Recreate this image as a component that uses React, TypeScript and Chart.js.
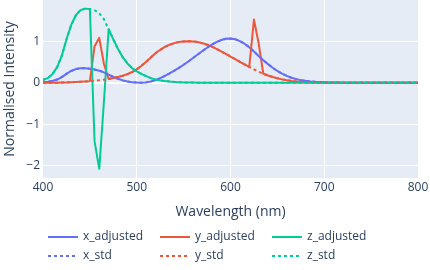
import React, { useEffect, useRef } from "react";
import { Chart, registerables } from "chart.js";

Chart.register(...registerables);

const wavelengths = [
  400, 405, 410, 415, 420, 425, 430, 435, 440, 445, 450, 455, 460, 465, 470, 475, 480, 485, 490, 495,
  500, 505, 510, 515, 520, 525, 530, 535, 540, 545, 550, 555, 560, 565, 570, 575, 580, 585, 590, 595,
  600, 605, 610, 615, 620, 625, 630, 635, 640, 645, 650, 655, 660, 665, 670, 675, 680, 685, 690, 695,
  700, 705, 710, 715, 720, 725, 730, 735, 740, 745, 750, 755, 760, 765, 770, 775, 780, 785, 790, 795,
  800,
];

const xStd = [
  0.01431, 0.02319, 0.04351, 0.07763, 0.13438, 0.21477, 0.2839, 0.3285, 0.34828, 0.34806, 0.3362, 0.3187, 0.2908, 0.2511, 0.19536, 0.1421, 0.09564, 0.05795, 0.03201, 0.0147,
  0.0049, 0.0024, 0.0093, 0.0291, 0.06327, 0.1096, 0.1655, 0.22575, 0.2904, 0.3597, 0.43345, 0.51205, 0.5945, 0.6784, 0.7621, 0.8425, 0.9163, 0.9786, 1.0263, 1.0567,
  1.0622, 1.0456, 1.0026, 0.9384, 0.85445, 0.7514, 0.6424, 0.5419, 0.4479, 0.3608, 0.2835, 0.2187, 0.1649, 0.1212, 0.0874, 0.0636, 0.04677, 0.0329, 0.0227, 0.01584,
  0.011359, 0.008111, 0.00579, 0.004109, 0.002899, 0.002049, 0.00144, 0.001, 0.00069, 0.000476, 0.000332, 0.000235, 0.000166, 0.000117, 0.000083, 0.000059, 0.000042, 0.00003, 0.00002, 0.000015,
  0.00001,
];

const xAdjusted = [
  0.01431, 0.02319, 0.04351, 0.07763, 0.13438, 0.21477, 0.2839, 0.3285, 0.34828, 0.34806, 0.3362, 0.3187, 0.2908, 0.2511, 0.19536, 0.1421, 0.09564, 0.05795, 0.03201, 0.0147,
  0.0049, 0.0024, 0.0093, 0.0291, 0.06327, 0.1096, 0.1655, 0.22575, 0.2904, 0.3597, 0.43345, 0.51205, 0.5945, 0.6784, 0.7621, 0.8425, 0.9163, 0.9786, 1.0263, 1.0567,
  1.0622, 1.0456, 1.0026, 0.9384, 0.85445, 0.7514, 0.6424, 0.5419, 0.4479, 0.3608, 0.2835, 0.2187, 0.1649, 0.1212, 0.0874, 0.0636, 0.04677, 0.0329, 0.0227, 0.01584,
  0.011359, 0.008111, 0.00579, 0.004109, 0.002899, 0.002049, 0.00144, 0.001, 0.00069, 0.000476, 0.000332, 0.000235, 0.000166, 0.000117, 0.000083, 0.000059, 0.000042, 0.00003, 0.00002, 0.000015,
  0.00001,
];

const yStd = [
  0.000396, 0.00064, 0.00121, 0.00218, 0.004, 0.0073, 0.0116, 0.01684, 0.023, 0.0298, 0.038, 0.048, 0.06, 0.0739, 0.09098, 0.1126, 0.13902, 0.1693, 0.20802, 0.2586,
  0.323, 0.4073, 0.503, 0.6082, 0.71, 0.7932, 0.862, 0.91485, 0.954, 0.9803, 0.99495, 1.0, 0.995, 0.9786, 0.952, 0.9154, 0.87, 0.8163, 0.757, 0.6949,
  0.631, 0.5668, 0.503, 0.4412, 0.381, 0.321, 0.265, 0.217, 0.175, 0.1382, 0.107, 0.0816, 0.061, 0.04458, 0.032, 0.0232, 0.017, 0.01192, 0.00821, 0.005723,
  0.004102, 0.002929, 0.002091, 0.001484, 0.001047, 0.00074, 0.00052, 0.000361, 0.000249, 0.000172, 0.00012, 0.000085, 0.00006, 0.000042, 0.00003, 0.000021, 0.000015, 0.00001, 0.000007, 0.000005,
  0.000004,
];

const yAdjusted = [
  0.000396, 0.00064, 0.00121, 0.00218, 0.004, 0.0073, 0.0116, 0.01684, 0.023, 0.0298, 0.038, 0.88, 1.08, 0.45, 0.09098, 0.1126, 0.13902, 0.1693, 0.20802, 0.2586,
  0.323, 0.4073, 0.503, 0.6082, 0.71, 0.7932, 0.862, 0.91485, 0.954, 0.9803, 0.99495, 1.0, 0.995, 0.9786, 0.952, 0.9154, 0.87, 0.8163, 0.757, 0.6949,
  0.631, 0.5668, 0.503, 0.4412, 0.381, 1.52, 0.95, 0.217, 0.175, 0.1382, 0.107, 0.0816, 0.061, 0.04458, 0.032, 0.0232, 0.017, 0.01192, 0.00821, 0.005723,
  0.004102, 0.002929, 0.002091, 0.001484, 0.001047, 0.00074, 0.00052, 0.000361, 0.000249, 0.000172, 0.00012, 0.000085, 0.00006, 0.000042, 0.00003, 0.000021, 0.000015, 0.00001, 0.000007, 0.000005,
  0.000004,
];

const zStd = [
  0.06785, 0.1102, 0.2074, 0.3713, 0.6456, 1.03905, 1.3856, 1.62296, 1.74706, 1.7826, 1.77211, 1.7441, 1.6692, 1.5281, 1.28764, 1.0419, 0.81295, 0.6162, 0.46518, 0.3533,
  0.272, 0.2123, 0.1582, 0.1117, 0.07825, 0.05725, 0.04216, 0.02984, 0.0203, 0.0134, 0.00875, 0.00575, 0.0039, 0.00275, 0.0021, 0.0018, 0.00165, 0.0014, 0.0011, 0.001,
  0.0008, 0.0006, 0.00034, 0.00024, 0.00019, 0.0001, 0.00005, 0.00003, 0.00002, 0.00001, 0, 0, 0, 0, 0, 0, 0, 0, 0, 0,
  0, 0, 0, 0, 0, 0, 0, 0, 0, 0, 0, 0, 0, 0, 0, 0, 0, 0, 0, 0,
  0,
];

const zAdjusted = [
  0.06785, 0.1102, 0.2074, 0.3713, 0.6456, 1.03905, 1.3856, 1.62296, 1.74706, 1.7826, 1.77211, -1.41, -2.07, -0.45, 1.28764, 1.0419, 0.81295, 0.6162, 0.46518, 0.3533,
  0.272, 0.2123, 0.1582, 0.1117, 0.07825, 0.05725, 0.04216, 0.02984, 0.0203, 0.0134, 0.00875, 0.00575, 0.0039, 0.00275, 0.0021, 0.0018, 0.00165, 0.0014, 0.0011, 0.001,
  0.0008, 0.0006, 0.00034, 0.00024, 0.00019, 0.0001, 0.00005, 0.00003, 0.00002, 0.00001, 0, 0, 0, 0, 0, 0, 0, 0, 0, 0,
  0, 0, 0, 0, 0, 0, 0, 0, 0, 0, 0, 0, 0, 0, 0, 0, 0, 0, 0, 0,
  0,
];

const seriesNames = ["x_adjusted", "y_adjusted", "z_adjusted", "x_std", "y_std", "z_std"];
const xTickValues = [400, 500, 600, 700, 800];
const yTickValues = [-2, -1, 0, 1];
const xTitle = "Wavelength (nm)";
const yTitle = "Normalised Intensity";

const BLUE = "#636efa";
const RED = "#EF553B";
const GREEN = "#00cc96";
const TEXT = "#2a3f5f";
const FONT = "'Open Sans', 'Noto Sans', sans-serif";

const toPoints = (vals: number[]) => wavelengths.map((w, i) => ({ x: w, y: vals[i] }));

const extrasPlugin = {
  id: "plotlyExtras",
  beforeDraw(chart: any) {
    const { ctx, chartArea } = chart;
    ctx.save();
    ctx.fillStyle = "#E5ECF6";
    ctx.fillRect(chartArea.left, chartArea.top, chartArea.right - chartArea.left, chartArea.bottom - chartArea.top);
    ctx.restore();
  },
  afterDraw(chart: any) {
    const { ctx, chartArea } = chart;
    ctx.save();
    ctx.fillStyle = TEXT;
    ctx.font = `14px ${FONT}`;
    ctx.textAlign = "center";
    ctx.textBaseline = "middle";
    ctx.fillText(xTitle, (chartArea.left + chartArea.right) / 2, 212);
    ctx.save();
    ctx.translate(10.5, (chartArea.top + chartArea.bottom) / 2);
    ctx.rotate(-Math.PI / 2);
    ctx.fillText(yTitle, 0, 0);
    ctx.restore();

    // legend
    const ds = chart.data.datasets;
    ctx.font = `12px ${FONT}`;
    ctx.textAlign = "left";
    ds.forEach((d: any, i: number) => {
      const col = i % 3;
      const row = Math.floor(i / 3);
      const x0 = 48 + col * 112;
      const y = row === 0 ? 237 : 256;
      ctx.save();
      ctx.strokeStyle = d.borderColor;
      ctx.lineWidth = 2;
      ctx.setLineDash(d.borderDash || []);
      ctx.beginPath();
      ctx.moveTo(x0, y);
      ctx.lineTo(x0 + 30, y);
      ctx.stroke();
      ctx.restore();
      ctx.fillStyle = TEXT;
      ctx.fillText(d.label, x0 + 35, y);
    });
    ctx.restore();
  },
};

export default function App() {
  const ref = useRef<HTMLCanvasElement | null>(null);

  useEffect(() => {
    document.body.style.margin = "0";
    if (!ref.current) return;
    const colors = [BLUE, RED, GREEN, BLUE, RED, GREEN];
    const values = [xAdjusted, yAdjusted, zAdjusted, xStd, yStd, zStd];
    const chart = new Chart(ref.current, {
      type: "line",
      data: {
        datasets: seriesNames.map((name, i) => ({
          label: name,
          data: toPoints(values[i]),
          borderColor: colors[i],
          backgroundColor: colors[i],
          borderWidth: 2,
          borderDash: i >= 3 ? [3, 3] : [],
          pointRadius: 0,
          tension: 0,
          fill: false,
          order: 5 - i,
          borderJoinStyle: "round" as const,
        })),
      },
      options: {
        animation: false,
        responsive: false,
        events: [],
        layout: { padding: { left: 0, right: 12, top: 0, bottom: 0 } },
        plugins: { legend: { display: false }, tooltip: { enabled: false } },
        scales: {
          x: {
            type: "linear",
            min: 400,
            max: 800,
            afterFit(scale: any) {
              scale.height = 92;
              scale.paddingLeft = 0;
              scale.paddingRight = 0;
            },
            afterBuildTicks(scale: any) {
              scale.ticks = xTickValues.map((v) => ({ value: v }));
            },
            border: { display: false },
            grid: {
              drawTicks: false,
              color: (c: any) => (c.tick && (c.tick.value === 400 || c.tick.value === 800) ? "rgba(0,0,0,0)" : "#ffffff"),
              lineWidth: 1,
            },
            ticks: {
              padding: 2,
              color: TEXT,
              font: { family: FONT, size: 12 },
              maxRotation: 0,
            },
          },
          y: {
            type: "linear",
            min: -2.29,
            max: 1.99,
            afterFit(scale: any) {
              scale.width = 43;
              scale.paddingTop = 0;
              scale.paddingBottom = 0;
            },
            afterBuildTicks(scale: any) {
              scale.ticks = yTickValues.map((v) => ({ value: v }));
            },
            border: { display: false },
            grid: {
              drawTicks: false,
              color: "#ffffff",
              lineWidth: (c: any) => (c.tick && c.tick.value === 0 ? 2 : 1),
            },
            ticks: {
              padding: 3,
              color: TEXT,
              font: { family: FONT, size: 12 },
              callback: (v: any) => (Number(v) < 0 ? "\u2212" + Math.abs(Number(v)) : String(v)),
            },
          },
        },
      },
      plugins: [extrasPlugin],
    });
    return () => chart.destroy();
  }, []);

  return (
    <div style={{ position: "absolute", left: 0, top: 0, width: 430, height: 270 }}>
      <canvas ref={ref} width={430} height={270} style={{ width: 430, height: 270, display: "block" }} />
    </div>
  );
}
